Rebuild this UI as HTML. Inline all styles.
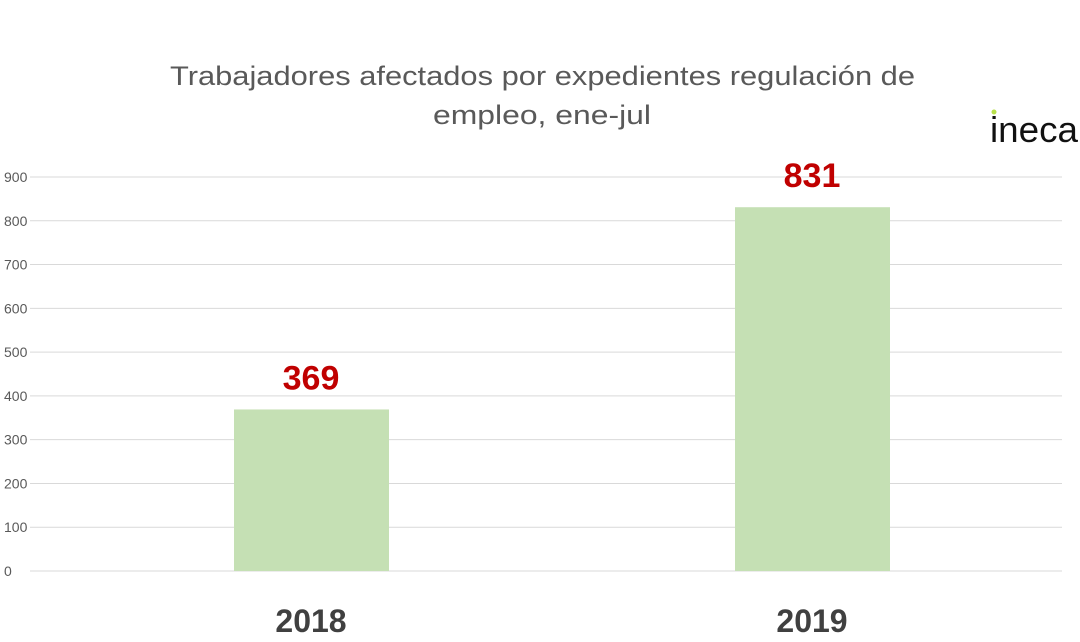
<!DOCTYPE html>
<html><head><meta charset="utf-8"><style>
body{margin:0;background:#fff;width:1080px;height:637px;overflow:hidden;font-family:"Liberation Sans",sans-serif}
</style></head><body>
<svg width="1080" height="637">
<text x="170" y="85" textLength="745" lengthAdjust="spacingAndGlyphs" font-size="27" fill="#595959">Trabajadores afectados por expedientes regulación de</text>
<text x="433" y="124" textLength="218" lengthAdjust="spacingAndGlyphs" font-size="27" fill="#595959">empleo, ene-jul</text>
<g>
<text x="990" y="142" textLength="88" lengthAdjust="spacingAndGlyphs" font-size="36" fill="#111">ineca</text>
<circle cx="994" cy="112" r="2.5" fill="#b8e04a"/>
</g>
<g id="grid"></g><g id="bars"></g>
</svg>
<script>
const categories=["2018","2019"];
const values=[369,831];
const ticks=[0,100,200,300,400,500,600,700,800,900];
const y=v=>571-v*(571-177)/900;
const cx=[311,812];
const ns="http://www.w3.org/2000/svg";
const g=document.getElementById('grid'),b=document.getElementById('bars');
function mk(t,a,p){const e=document.createElementNS(ns,t);for(const k in a)e.setAttribute(k,a[k]);p.appendChild(e);return e;}
ticks.forEach(t=>{
const l=mk('line',{x1:30,x2:1062,y1:y(t),y2:y(t),stroke:'#d9d9d9','stroke-width':1},g);


const tx=mk('text',{x:4,y:y(t)+5,'font-size':14,fill:'#595959'},g);tx.textContent=t;


});
categories.forEach((c,i)=>{
const r=mk('rect',{x:cx[i]-77,y:y(values[i]),width:155,height:y(0)-y(values[i]),fill:'#c5e0b4'},b);


const v=mk('text',{x:cx[i],y:y(values[i])-20,'text-anchor':'middle','font-size':34,'font-weight':'bold',fill:'#c00000'},b);v.textContent=values[i];


const xl=mk('text',{x:cx[i],y:632,'text-anchor':'middle','font-size':32,'font-weight':'bold',fill:'#404040'},b);xl.textContent=c;


});
</script>
</body></html>
